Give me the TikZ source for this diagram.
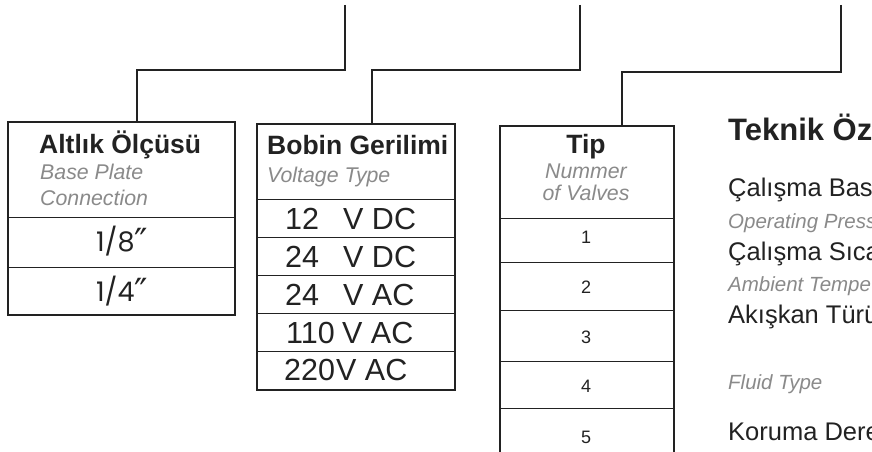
\documentclass[tikz,border=0pt]{standalone}
\usepackage{fontspec}
\setmainfont{Liberation Sans}
\newfontfamily\fracfont{Poppins}
\newfontfamily\primefont{DejaVu Sans}
\newcommand{\bigprime}{\raisebox{-3.5pt}{\primefont\fontsize{36}{38}\selectfont ″}}
\definecolor{ink}{HTML}{222222}
\definecolor{subgray}{HTML}{8A8A8A}
\tikzset{
  conn/.style={draw=ink, line width=1.6pt},
  boxframe/.style={draw=ink, line width=1.8pt, anchor=north west, inner sep=0pt},
  rowline/.style={draw=ink, line width=1pt},
  headtxt/.style={inner sep=0pt, text=ink, font=\bfseries\fontsize{26.5}{28}\selectfont},
  subtxt/.style={inner sep=0pt, text=subgray, font=\itshape\fontsize{21.3}{23}\selectfont},
  valtxt/.style={inner sep=0pt, text=ink, font=\fontsize{30.5}{32}\selectfont},
  fractxt/.style={inner sep=0pt, text=ink, font=\fracfont\fontsize{27}{29}\selectfont},
  numtxt/.style={inner sep=0pt, text=ink, font=\fontsize{18}{20}\selectfont},
  spechead/.style={inner sep=0pt, text=ink, anchor=base west, font=\bfseries\fontsize{31}{33}\selectfont},
  specmain/.style={inner sep=0pt, text=ink, anchor=base west, font=\fontsize{25.5}{27}\selectfont},
  specsub/.style={inner sep=0pt, text=subgray, anchor=base west, font=\itshape\fontsize{20.5}{22}\selectfont}
}
\begin{document}
\begin{tikzpicture}[x=1pt, y=-1pt]
\useasboundingbox (0,0) rectangle (872,452);
\clip (0,0) rectangle (872,452);
\fill[white] (0,0) rectangle (872,452);

% boxes
\node[boxframe, minimum width=227pt, minimum height=193pt] (b1) at (7,121) {};
\node[boxframe, minimum width=198pt, minimum height=266pt] (b2) at (256,123) {};
\node[boxframe, minimum width=174pt, minimum height=360pt] (b3) at (499,125) {};

% row lines
\draw[rowline] (7,217) -- (234,217);
\draw[rowline] (7,267) -- (234,267);
\foreach \yy in {199,237,275,313,351} \draw[rowline] (256,\yy) -- (454,\yy);
\foreach \yy in {218,262,310,361,408} \draw[rowline] (499,\yy) -- (673,\yy);

% connectors
\coordinate (t1) at (345,5);
\coordinate (j1) at (137,70);
\coordinate (t2) at (580,5);
\coordinate (j2) at (372,70);
\coordinate (t3) at (841,5);
\coordinate (j3) at (622,72);
\draw[conn] (t1) |- (j1) -- (j1 |- b1.north);
\draw[conn] (t2) |- (j2) -- (j2 |- b2.north);
\draw[conn] (t3) |- (j3) -- (j3 |- b3.north);

% box 1 text
\node[headtxt, anchor=base west] (h1) at (39,153) {Altlık Ölçüsü};
\node[subtxt, anchor=base west] (s1a) at (40,179) {Base Plate};
\node[subtxt, anchor=base west] (s1b) at (40,205) {Connection};
\node[fractxt, anchor=base] (v1a) at (122,251) {1/8\bigprime};
\node[fractxt, anchor=base] (v1b) at (122,301) {1/4\bigprime};

% box 2 text
\node[headtxt, anchor=base west] (h2) at (267,154) {Bobin Gerilimi};
\node[subtxt, anchor=base west] (s2) at (267,182) {Voltage Type};
\node[valtxt, anchor=base west] (n21) at (285,229) {12};
\node[valtxt, anchor=base west] (u21) at (343,229) {V DC};
\node[valtxt, anchor=base west] (n22) at (285,267) {24};
\node[valtxt, anchor=base west] (u22) at (343,267) {V DC};
\node[valtxt, anchor=base west] (n23) at (285,305) {24};
\node[valtxt, anchor=base west] (u23) at (343,305) {V AC};
\node[valtxt, anchor=base west] (n24) at (286,343) {110};
\node[valtxt, anchor=base west] (u24) at (342,343) {V AC};
\node[valtxt, anchor=base west] (n25) at (284,380) {220};
\node[valtxt, anchor=base west] (u25) at (336,380) {V AC};

% box 3 text
\node[headtxt, anchor=base] (h3) at (586,153) {Tip};
\node[subtxt, anchor=base] (s3a) at (586,178) {Nummer};
\node[subtxt, anchor=base] (s3b) at (586,200) {of Valves};
\node[numtxt, anchor=base] (r1) at (586,243) {1};
\node[numtxt, anchor=base] (r2) at (586,293) {2};
\node[numtxt, anchor=base] (r3) at (586,343) {3};
\node[numtxt, anchor=base] (r4) at (586,392) {4};
\node[numtxt, anchor=base] (r5) at (586,443) {5};

% specification column (cut off at the right edge)
\node[spechead] (k0) at (728,140) {Teknik Öz};
\node[specmain] (k1) at (728,196) {Çalışma Bas};
\node[specsub] (k2) at (728,228) {Operating Press};
\node[specmain] (k3) at (728,260) {Çalışma Sıca};
\node[specsub] (k4) at (728,291) {Ambient Tempe};
\node[specmain] (k5) at (728,323) {Akışkan Türü};
\node[specsub] (k6) at (728,389) {Fluid Type};
\node[specmain] (k7) at (728,440) {Koruma Dere};
\end{tikzpicture}
\end{document}
